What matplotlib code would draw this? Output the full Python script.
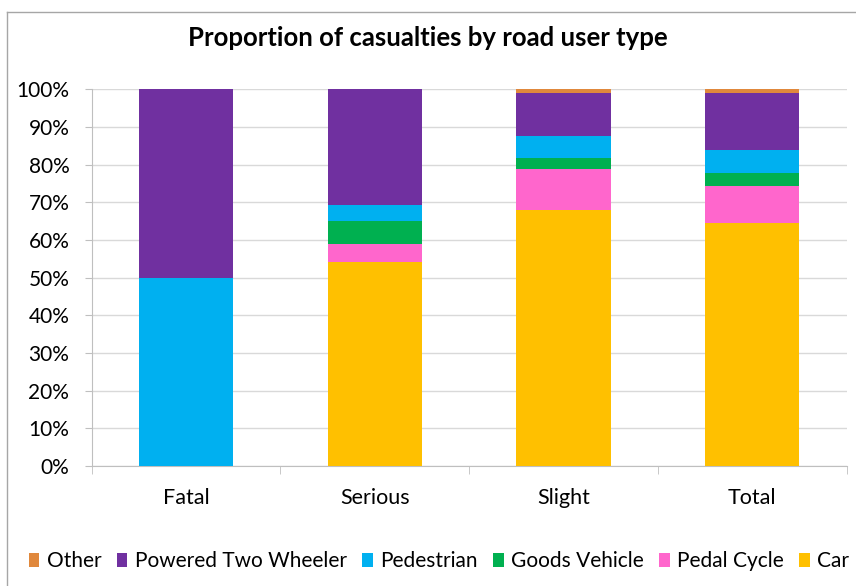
import matplotlib.pyplot as plt
import numpy as np

# Proportions (%)
categories = ["Fatal", "Serious", "Slight", "Total"]
car = [0.0, 54.2, 67.9, 64.4]
pedal_cycle = [0.0, 4.6, 10.9, 10.0]
goods_vehicle = [0.0, 6.3, 3.0, 3.4]
pedestrian = [50.0, 4.1, 5.8, 6.1]
powered_two_wheeler = [50.0, 30.8, 11.3, 15.1]
other = [0.0, 0.0, 1.1, 1.2]

series = [
  ("Car", car, "#FFC000"),
  ("Pedal Cycle", pedal_cycle, "#FF66CC"),
  ("Goods Vehicle", goods_vehicle, "#00B050"),
  ("Pedestrian", pedestrian, "#00B0F0"),
  ("Powered Two Wheeler", powered_two_wheeler, "#7030A0"),
  ("Other", other, "#E0883C"),
]

plt.rcParams['font.family'] = ['Lato', 'DejaVu Sans']

fig = plt.figure(figsize=(8.56, 5.86), dpi=100)
ax = fig.add_axes([0.107, 0.2048, 0.882, 0.643])

x = np.arange(len(categories))
bottom = np.zeros(len(categories))
handles = []
for name, vals, color in series:
  h = ax.bar(x, vals, bottom=bottom, width=0.5, color=color, label=name, zorder=3)
  handles.append(h)
  bottom += np.array(vals)

ax.set_xlim(-0.5, len(categories) - 0.5)
ax.set_ylim(0, 100)
ax.set_yticks(np.arange(0, 101, 10))
ax.set_yticklabels([f"{v}%" for v in range(0, 101, 10)], fontsize=15)
ax.set_xticks(x)
ax.set_xticklabels(categories, fontsize=15.5)
ax.set_xticks(np.arange(-0.5, len(categories), 1), minor=True)
ax.tick_params(axis='x', which='major', length=0, pad=16)
ax.tick_params(axis='x', which='minor', length=6, color="#bfbfbf")
ax.tick_params(axis='y', length=5, color="#bfbfbf", pad=11)
ax.grid(axis='y', color="#d9d9d9", linewidth=1, zorder=0)

for side in ["top", "right"]:
  ax.spines[side].set_visible(False)
ax.spines["left"].set_color("#bfbfbf")
ax.spines["bottom"].set_color("#bfbfbf")

fig.text(0.5, 0.935, "Proportion of casualties by road user type",
         ha="center", va="center", fontsize=18.5, fontweight="bold")

# legend in reverse stacking order, like the original
fig.legend(handles[::-1], [s[0] for s in series][::-1], loc="center left",
           bbox_to_anchor=(0.012, 0.042), ncol=6, frameon=False, fontsize=15,
           handlelength=0.5, handleheight=0.6, handletextpad=0.35, columnspacing=0.75)

# chart border (cropped at right and bottom)
fig.add_artist(plt.Line2D([0.008, 0.008], [0.0, 0.98], color="#a6a6a6", linewidth=1))
fig.add_artist(plt.Line2D([0.008, 1.0], [0.98, 0.98], color="#a6a6a6", linewidth=1))

fig.savefig("out.png", dpi=100)
